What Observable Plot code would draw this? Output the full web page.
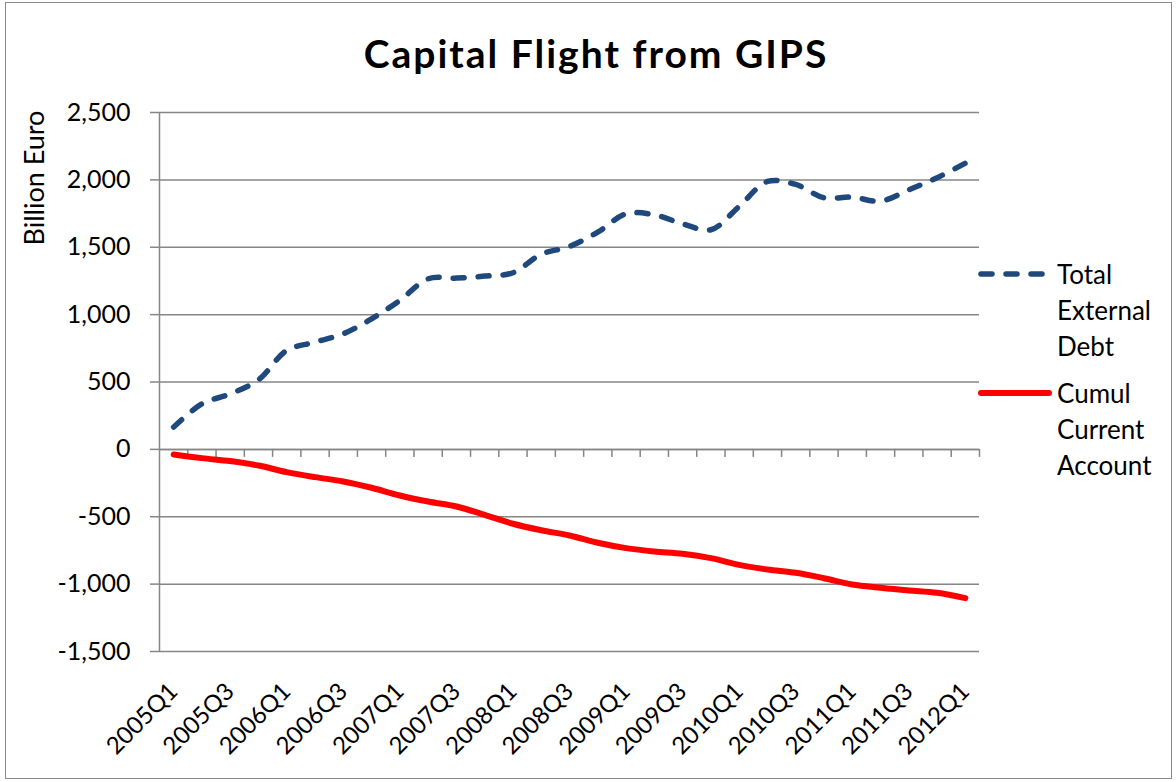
<!DOCTYPE html>
<html>
<head>
<meta charset="utf-8">
<script src="https://cdn.jsdelivr.net/npm/d3@7"></script>
<script src="https://cdn.jsdelivr.net/npm/@observablehq/plot@0.6"></script>
<style>
  html, body { margin: 0; padding: 0; background: #fff; }
  #wrap { position: relative; width: 1176px; height: 782px; overflow: hidden; font-family: Lato, "Open Sans", sans-serif; color: #000; }
  #chart { position: absolute; left: 0; top: 0; }
  #border { position: absolute; left: 5px; top: 2px; width: 1165px; height: 775px; border: 1.5px solid #8a8a8a; pointer-events: none; }
  #title { position: absolute; left: 0; width: 1192px; top: 29px; text-align: center; font-weight: bold; font-size: 39px; letter-spacing: 2px; line-height: 48px; }
  #ylabel { position: absolute; left: 33px; top: 178px; transform: translate(-50%, -50%) rotate(-90deg); white-space: nowrap; font-size: 27px; }
  .leg { position: absolute; left: 978px; }
  .leg svg { position: absolute; left: 0; top: 0; overflow: visible; }
  .leg .txt { position: absolute; left: 79px; top: 0; font-size: 26px; line-height: 36px; white-space: nowrap; }
</style>
</head>
<body>
<div id="wrap">
  <div id="chart"></div>
  <div id="title">Capital Flight from GIPS</div>
  <div id="ylabel">Billion Euro</div>
  <div id="legend"></div>
  <div id="border"></div>
</div>
<script>
const quarters = [
  "2005Q1","2005Q2","2005Q3","2005Q4",
  "2006Q1","2006Q2","2006Q3","2006Q4",
  "2007Q1","2007Q2","2007Q3","2007Q4",
  "2008Q1","2008Q2","2008Q3","2008Q4",
  "2009Q1","2009Q2","2009Q3","2009Q4",
  "2010Q1","2010Q2","2010Q3","2010Q4",
  "2011Q1","2011Q2","2011Q3","2011Q4",
  "2012Q1"
];
const totalExternalDebt = [165, 338, 412, 516, 734, 796, 858, 969, 1105, 1266, 1271, 1286, 1311, 1448, 1506, 1612, 1748, 1741, 1674, 1630, 1803, 1988, 1966, 1867, 1872, 1842, 1926, 2016, 2124];
const cumulCurrentAccount = [-38, -65, -87, -120, -169, -206, -238, -285, -342, -387, -424, -486, -552, -600, -639, -693, -733, -758, -775, -807, -857, -891, -916, -956, -1003, -1027, -1047, -1064, -1104];
const yTicks = [-1500, -1000, -500, 0, 500, 1000, 1500, 2000, 2500];
const seriesNames = ["Total External Debt", "Cumul Current Account"];
const seriesColors = ["#1f497d", "#ff0000"];

const gridColor = "#868686";
const rows = quarters.map((q, i) => ({i, q, debt: totalExternalDebt[i], cumul: cumulCurrentAccount[i]}));
const labelIdx = quarters.map((q, i) => i).filter(i => i % 2 === 0);
const fmt = d => d.toLocaleString("en-US");

const chart = Plot.plot({
  width: 1176,
  height: 782,
  marginLeft: 159,
  marginRight: 197,
  marginTop: 112,
  marginBottom: 131,
  x: {type: "linear", domain: [-0.5, quarters.length - 0.5]},
  y: {domain: [-1500, 2500]},
  style: {fontFamily: "Lato, 'Open Sans', sans-serif", fontSize: "25px", background: "transparent", color: "#000", overflow: "visible"},
  marks: [
    Plot.gridY(yTicks, {stroke: gridColor, strokeOpacity: 1, strokeWidth: 1.5}),
    Plot.axisY(yTicks, {tickSize: 9, tickPadding: 20, tickFormat: fmt, stroke: gridColor, strokeWidth: 1.5, fill: "#000", label: null, fontSize: 25}),
    Plot.axisX(labelIdx, {anchor: "bottom", tickSize: 0, tickPadding: 36, tickRotate: -45, tickFormat: i => quarters[i], fill: "#000", label: null, fontSize: 24}),
    Plot.ruleX([-0.5], {stroke: gridColor, strokeWidth: 1.5}),
    Plot.ruleY([0], {stroke: gridColor, strokeWidth: 1.5}),
    Plot.ruleX(quarters.map((q, i) => i + 0.5), {x: d => d, y1: 0, y2: 0, insetBottom: -8, stroke: gridColor, strokeWidth: 1.5}),
    Plot.line(rows, {x: "i", y: "cumul", curve: "catmull-rom", stroke: seriesColors[1], strokeWidth: 6, strokeLinecap: "round", strokeLinejoin: "round"}),
    Plot.line(rows, {x: "i", y: "debt", curve: "catmull-rom", stroke: seriesColors[0], strokeWidth: 5.5, strokeDasharray: "11,14", strokeLinecap: "round", strokeLinejoin: "round"})
  ]
});
document.getElementById("chart").appendChild(chart);

// legend
const legend = document.getElementById("legend");
const legTops = [256, 375];
seriesNames.forEach((name, k) => {
  const d = document.createElement("div");
  d.className = "leg";
  d.style.top = legTops[k] + "px";
  const dash = k === 0 ? 'stroke-dasharray="11,14"' : "";
  const sw = k === 0 ? 5.5 : 6;
  d.innerHTML = `<svg width="80" height="36"><line x1="3" x2="71" y1="18" y2="18" stroke="${seriesColors[k]}" stroke-width="${sw}" stroke-linecap="round" ${dash}/></svg>` +
    `<div class="txt">${name.split(" ").join("<br>")}</div>`;
  legend.appendChild(d);
});
</script>
</body>
</html>
